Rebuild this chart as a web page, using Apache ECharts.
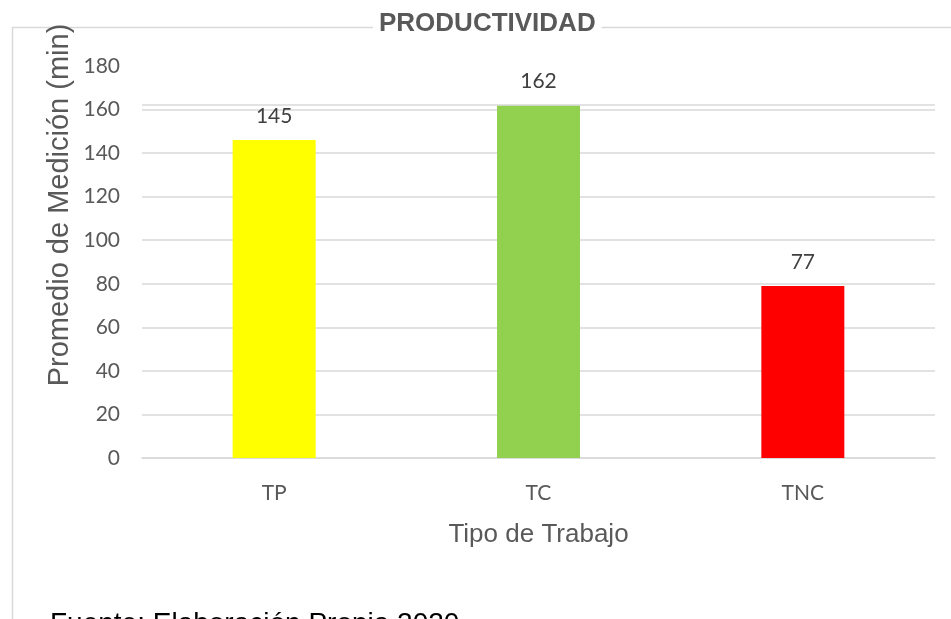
<!DOCTYPE html>
<html>
<head>
<meta charset="utf-8">
<title>PRODUCTIVIDAD</title>
<script src="https://cdn.jsdelivr.net/npm/echarts@6/dist/echarts.min.js"></script>
<style>
html, body { margin: 0; padding: 0; background: #fff; }
#main { width: 951px; height: 619px; }
</style>
</head>
<body>
<div id="main"></div>
<script>
// datos del grafico
var categorias = ['TP', 'TC', 'TNC'];
var valores = [146, 162, 79];
var etiquetas = ['145', '162', '77'];
var colores = ['#FFFF00', '#92D050', '#FF0000'];
var ticksY = [0, 20, 40, 60, 80, 100, 120, 140, 160, 180];

var gris = '#595959';

// color de cada linea de la cuadricula, la de 180 no se ve
var coloresRejilla = ticksY.map(function (t, i) {
    return i == ticksY.length - 1 ? 'rgba(0,0,0,0)' : '#d9d9d9';
});

var datosSerie = valores.map(function (v, i) {
    return {
        value: v,
        itemStyle: { color: colores[i] },
        label: { formatter: etiquetas[i] }
    };
});

var chart = echarts.init(document.getElementById('main'));
chart.setOption({
    animation: false,
    title: {
        text: 'PRODUCTIVIDAD',
        left: 373,
        top: 9,
        padding: [2, 6, 0, 6],
        backgroundColor: '#fff',
        textStyle: {
            fontFamily: 'Liberation Sans',
            fontWeight: 'bold',
            fontSize: 26,
            color: gris
        }
    },
    grid: {
        left: 142,
        right: 16,
        top: 66,
        bottom: 161
    },
    xAxis: {
        type: 'category',
        data: categorias,
        axisTick: { show: false },
        axisLine: { lineStyle: { color: '#d9d9d9', width: 1.5 } },
        axisLabel: {
            margin: 25,
            fontFamily: 'Lato',
            fontSize: 21,
            color: gris
        },
        name: 'Tipo de Trabajo',
        nameLocation: 'middle',
        nameGap: 64,
        nameTextStyle: {
            fontFamily: 'Liberation Sans',
            fontSize: 26,
            color: gris
        }
    },
    yAxis: {
        type: 'value',
        min: 0,
        max: 180,
        interval: 20,
        axisLine: { show: false },
        axisTick: { show: false },
        axisLabel: {
            margin: 22,
            fontFamily: 'Lato',
            fontSize: 21,
            color: gris
        },
        splitLine: { lineStyle: { color: coloresRejilla, width: 1.5 } }
    },
    graphic: [
        {
            type: 'rect',
            shape: { x: 12.5, y: 27.5, width: 960, height: 620 },
            style: { fill: 'none', stroke: '#d9d9d9', lineWidth: 1.5 },
            z: -1
        },
        {
            type: 'text',
            x: 60,
            y: 205,
            rotation: Math.PI / 2,
            style: {
                text: 'Promedio de Medición (min)',
                fontFamily: 'Liberation Sans',
                fontSize: 29,
                fill: gris,
                align: 'center',
                verticalAlign: 'middle'
            }
        },
        {
            type: 'text',
            x: 50,
            y: 610,
            style: {
                text: 'Fuente: Elaboración Propia 2020',
                fontFamily: 'Liberation Sans',
                fontSize: 28,
                fill: '#000',
                align: 'left',
                verticalAlign: 'top'
            }
        }
    ],
    series: [
        {
            type: 'bar',
            data: datosSerie,
            barWidth: 83,
            label: {
                show: true,
                position: 'top',
                distance: 13,
                fontFamily: 'Lato',
                fontSize: 21,
                color: '#404040'
            },
            markLine: {
                silent: true,
                symbol: 'none',
                label: { show: false },
                lineStyle: { color: '#d9d9d9', type: 'solid', width: 1.5 },
                data: [{ yAxis: 162 }]
            }
        }
    ]
});
</script>
</body>
</html>
